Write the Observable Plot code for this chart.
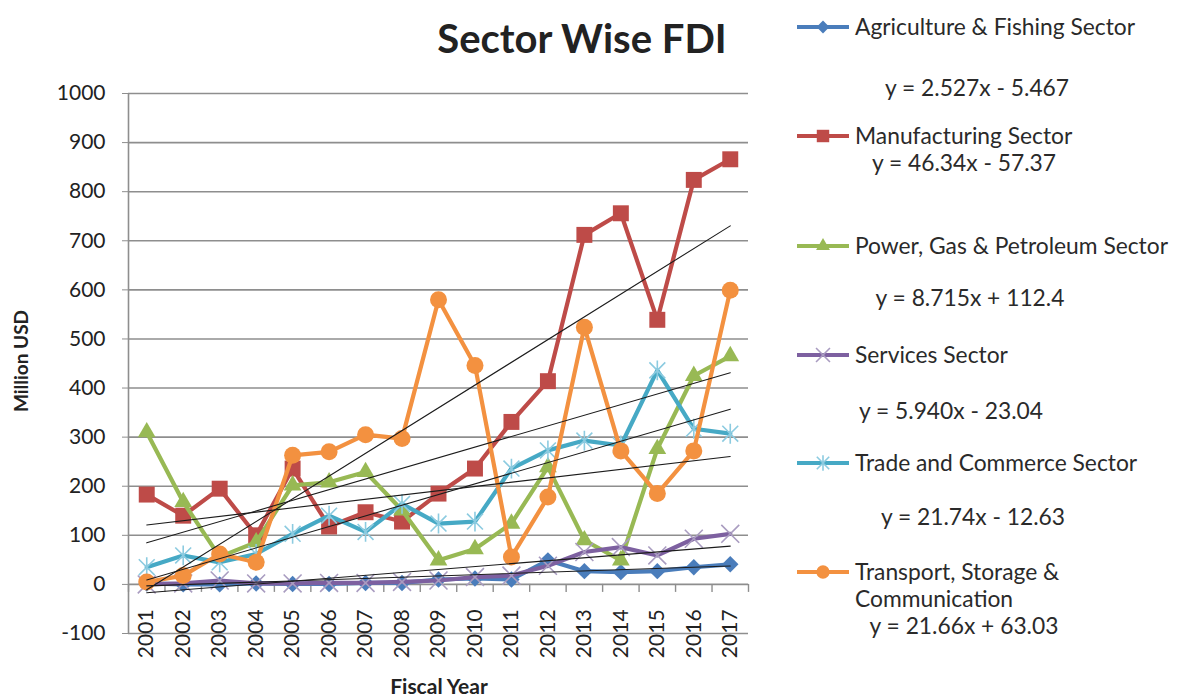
<!DOCTYPE html>
<html>
<head>
<meta charset="utf-8">
<script src="https://cdn.jsdelivr.net/npm/d3@7"></script>
<script src="https://cdn.jsdelivr.net/npm/@observablehq/plot@0.6"></script>
<style>
  html, body { margin: 0; padding: 0; background: #fff; }
  #wrap { position: relative; width: 1179px; height: 698px; overflow: hidden; font-family: Lato, "Open Sans", sans-serif; color: #222; }
  #wrap svg.chart { position: absolute; left: 0; top: 0; }
  .abs { position: absolute; white-space: nowrap; line-height: 0.95; }
  .title { font-weight: 700; font-size: 40px; }
  .axlab { font-weight: 700; font-size: 19px; }
  .xlab { font-size: 21px; }
  .leg { font-size: 22.8px; color: #2a2a2a; }
</style>
</head>
<body>
<div id="wrap"></div>
<script>
// ---------- data ----------
const years = [2001, 2002, 2003, 2004, 2005, 2006, 2007, 2008, 2009, 2010, 2011, 2012, 2013, 2014, 2015, 2016, 2017];
const agriculture   = [2, 0, 0, 2, 1, 1, 3, 3, 10, 12, 10, 49, 27, 25, 27, 35, 41];
const manufacturing = [183, 140, 195, 100, 236, 118, 147, 128, 185, 236, 331, 414, 712, 756, 539, 824, 866];
const power         = [310, 168, 56, 86, 202, 208, 229, 151, 49, 72, 124, 239, 90, 49, 276, 425, 465];
const services      = [0, 2, 8, 2, 2, 3, 3, 5, 8, 15, 18, 38, 66, 76, 59, 93, 103];
const trade         = [35, 59, 45, 62, 103, 140, 107, 164, 124, 128, 236, 273, 293, 283, 436, 317, 307];
const transport     = [5, 18, 62, 45, 263, 270, 305, 297, 580, 446, 56, 178, 524, 272, 185, 272, 599];
const sectorNames = ["Agriculture & Fishing Sector", "Manufacturing Sector", "Power, Gas & Petroleum Sector", "Services Sector", "Trade and Commerce Sector", "Transport, Storage & Communication"];
const trendSlopes = [2.527, 46.34, 8.715, 5.940, 21.74, 21.66];
const trendIntercepts = [-5.467, -57.37, 112.4, -23.04, -12.63, 63.03];
const trendLabels = ["y = 2.527x - 5.467", "y = 46.34x - 57.37", "y = 8.715x + 112.4", "y = 5.940x - 23.04", "y = 21.74x - 12.63", "y = 21.66x + 63.03"];
const yTicks = [-100, 0, 100, 200, 300, 400, 500, 600, 700, 800, 900, 1000];
const titleText = "Sector Wise FDI";
const yLabelText = "Million USD";
const xLabelText = "Fiscal Year";

// ---------- styles ----------
const seriesValues = [agriculture, manufacturing, power, services, trade, transport];
const colors = ["#4a7dbb", "#be4b48", "#98b954", "#7d60a0", "#46a9c5", "#f39140"];
const markStroke = [null, null, null, "#a99cc0", "#8ccbe0", null];
const star = {
  draw(context, size) {
    const r = Math.sqrt(size) * 0.56;
    const a = r * 0.8;
    context.moveTo(0, -r); context.lineTo(0, r);
    context.moveTo(-a, -a); context.lineTo(a, a);
    context.moveTo(-a, a); context.lineTo(a, -a);
  }
};
const symbols = ["diamond2", "square", "triangle", "times", star, "circle"];
const radii = [7.4, 9, 6.6, 8.2, 10, 8.5];
const legendY = [27, 136, 246, 355, 463, 572];
const eqY = [88, 163, 298, 411, 517, 626];
const eqX = [977, 964, 970, 951, 973, 964];

const gridColor = "#8e8e8e";
const boundaries = years.map(y => y - 0.5).concat([years[years.length - 1] + 0.5]);

const marks = [
  Plot.ruleY(yTicks, {stroke: gridColor, strokeWidth: 1.6}),
  Plot.ruleX([boundaries[0]], {stroke: gridColor, strokeWidth: 1.6}),
  Plot.ruleX(boundaries, {y1: 0, y2: 0, insetBottom: -8, stroke: gridColor, strokeWidth: 1.4}),
  Plot.axisY(yTicks, {tickSize: 6, tickPadding: 17, fontSize: 21, tickFormat: d => String(d), stroke: gridColor, fill: "#222", label: null}),
  Plot.text(years, {x: d => d, y: () => 0, text: d => String(d), rotate: -90, textAnchor: "end", lineAnchor: "middle", dy: 25, fontSize: 21, fill: "#222"})
];

seriesValues.forEach((vals, s) => {
  marks.push(Plot.line(years, {x: d => d, y: (d, i) => vals[i], stroke: colors[s], strokeWidth: 4.2, strokeLinejoin: "round"}));
  const hollow = markStroke[s] !== null;
  marks.push(Plot.dot(years, {
    x: d => d, y: (d, i) => vals[i], symbol: () => symbols[s], r: radii[s],
    fill: hollow ? "none" : colors[s],
    stroke: hollow ? markStroke[s] : "none",
    strokeWidth: hollow ? 1.6 : 0
  }));
});

seriesValues.forEach((vals, s) => {
  const ends = [0, years.length - 1].map(i => ({x: years[i], y: trendSlopes[s] * (i + 1) + trendIntercepts[s]}));
  marks.push(Plot.line(ends, {x: "x", y: "y", stroke: "#1c1c1c", strokeWidth: 1.1}));
});

const chart = Plot.plot({
  width: 760,
  height: 698,
  marginLeft: 128,
  marginRight: 12,
  marginTop: 93,
  marginBottom: 65,
  style: {background: "transparent", fontFamily: "Lato, 'Open Sans', sans-serif", overflow: "visible"},
  x: {type: "linear", domain: [boundaries[0], boundaries[boundaries.length - 1]], axis: null},
  y: {domain: [-100, 1000], axis: null},
  marks
});
chart.classList.add("chart");
const wrap = document.getElementById("wrap");
wrap.appendChild(chart);

function addText(text, cls, left, top, transform) {
  const d = document.createElement("div");
  d.className = "abs " + cls;
  d.textContent = text;
  d.style.left = left + "px";
  d.style.top = top + "px";
  d.style.transform = transform;
  wrap.appendChild(d);
  return d;
}
addText(titleText, "title", 582, 38, "translate(-50%,-50%)");
addText(yLabelText, "axlab", 21, 361, "translate(-50%,-50%) rotate(-90deg)");
addText(xLabelText, "axlab xlab", 439, 686, "translate(-50%,-50%)");

// legend
const symMap = {diamond2: d3.symbolDiamond2, square: d3.symbolSquare, triangle: d3.symbolTriangle, times: d3.symbolTimes, circle: d3.symbolCircle};
sectorNames.forEach((name, s) => {
  const svg = d3.create("svg").attr("width", 60).attr("height", 24)
    .style("position", "absolute").style("left", "793px").style("top", (legendY[s] - 12) + "px");
  svg.append("line").attr("x1", 4).attr("x2", 56).attr("y1", 12).attr("y2", 12)
    .attr("stroke", colors[s]).attr("stroke-width", 4.2);
  const type = typeof symbols[s] === "string" ? symMap[symbols[s]] : symbols[s];
  const r = radii[s] * 0.78;
  const hollow = markStroke[s] !== null;
  svg.append("path").attr("transform", "translate(30,12)")
    .attr("d", d3.symbol(type, Math.PI * r * r)())
    .attr("fill", hollow ? "none" : colors[s])
    .attr("stroke", hollow ? markStroke[s] : "none")
    .attr("stroke-width", 1.6);
  wrap.appendChild(svg.node());
  if (s === 5) {
    addText("Transport, Storage &", "leg", 855, legendY[s], "translateY(-50%)");
    addText("Communication", "leg", 855, 599, "translateY(-50%)");
  } else {
    addText(name, "leg", 855, legendY[s], "translateY(-50%)");
  }
  addText(trendLabels[s], "leg", eqX[s], eqY[s], "translate(-50%,-50%)");
});
</script>
</body>
</html>
